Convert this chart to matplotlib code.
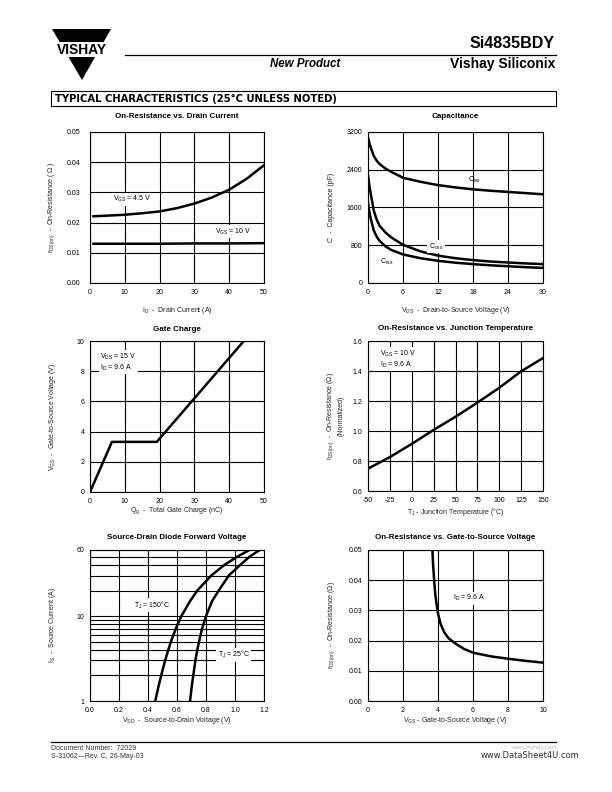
import matplotlib
matplotlib.use("Agg")
import matplotlib.pyplot as plt
from matplotlib.patches import Polygon, Rectangle

plt.rcParams.update({'font.family': ['Liberation Sans', 'DejaVu Sans'],
                     'font.size': 5, 'axes.linewidth': 0.8,
                     'axes.unicode_minus': False})

# --- data ---
# On-resistance vs drain current
id_45 = [1, 5, 10, 15, 20, 25, 30, 35, 40, 45, 50]
r_45 = [0.0221, 0.0223, 0.0226, 0.0231, 0.0237, 0.0248, 0.0263, 0.0283, 0.0309, 0.0345, 0.0390]
id_10 = [1, 10, 20, 30, 40, 50]
r_10 = [0.0130, 0.0130, 0.0130, 0.0131, 0.0131, 0.0132]

# Capacitance
vds = [0, 0.25, 0.5, 1, 1.5, 2, 3, 4, 6, 9, 12, 15, 18, 21, 24, 27, 30]
ciss = [3080, 2960, 2860, 2690, 2590, 2520, 2425, 2355, 2230, 2145, 2075, 2025, 1985, 1955, 1930, 1905, 1880]
coss = [2280, 2050, 1870, 1530, 1340, 1210, 1070, 965, 810, 670, 580, 525, 485, 455, 435, 415, 400]
crss = [1700, 1500, 1350, 1110, 980, 890, 775, 700, 605, 525, 470, 430, 400, 375, 355, 335, 320]

# Gate charge
qg = [0, 6.3, 19.2, 44.2]
vgs_qg = [0, 3.32, 3.32, 10]

# On-resistance vs junction temperature
tj = [-50, -25, 0, 25, 50, 75, 100, 125, 150]
r_norm = [0.749, 0.826, 0.914, 1.007, 1.095, 1.189, 1.288, 1.398, 1.486]

# Source-drain diode
i_s = [1, 1.5, 2, 3, 4, 5, 7, 10, 15, 20, 30, 40, 50, 60]
vsd_150 = [0.450, 0.473, 0.491, 0.518, 0.540, 0.558, 0.590, 0.630, 0.690, 0.740, 0.836, 0.927, 1.015, 1.100]
vsd_25 = [0.690, 0.702, 0.712, 0.727, 0.740, 0.752, 0.772, 0.800, 0.842, 0.888, 0.957, 1.036, 1.100, 1.170]

# On-resistance vs gate-to-source voltage
vgs = [3.68, 3.72, 3.78, 3.85, 3.92, 4.0, 4.15, 4.35, 4.6, 5.0, 5.5, 6.0, 7.0, 8.0, 9.0, 10.0]
r_vgs = [0.050, 0.045, 0.040, 0.035, 0.032, 0.029, 0.0255, 0.0228, 0.0208, 0.0190, 0.0172,
         0.0160, 0.0148, 0.0140, 0.0133, 0.0127]

W, H = 612, 792
fig = plt.figure(figsize=(W / 100, H / 100), dpi=100)

# page furniture drawn in pixel coordinates
page = fig.add_axes([0, 0, 1, 1])
page.set_xlim(0, W)
page.set_ylim(H, 0)
page.axis('off')

page.add_patch(Polygon([[52, 29], [111, 29], [82, 80]], closed=True, fc='black', ec='none'))
page.add_patch(Rectangle((45, 42), 72, 15, fc='white', ec='none'))
page.text(82, 50, 'VISHAY', fontsize=10, fontweight='bold', ha='center', va='center')
page.plot([125, 556], [55, 55], color='black', lw=0.9)
page.text(555, 44, 'Si4835BDY', fontsize=11.5, fontweight='bold', ha='right', va='center')
page.text(340, 64, 'New Product', fontsize=8.3, fontweight='bold', style='italic', ha='right', va='center')
page.text(555, 64, 'Vishay Siliconix', fontsize=10, fontweight='bold', ha='right', va='center')
page.add_patch(Rectangle((51, 91), 505, 15, fc='none', ec='black', lw=0.8))
page.text(55, 99, 'TYPICAL CHARACTERISTICS (25°C UNLESS NOTED)', fontsize=7.2,
          fontweight='bold', ha='left', va='center', family='DejaVu Sans')

page.plot([51, 556], [742, 742], color='black', lw=0.9)
page.text(51, 748, 'Document Number:  72029', fontsize=5, color='#333333', va='center')
page.text(51, 757, 'S-31062\u2014Rev. C, 26-May-03', fontsize=5, color='#333333', va='center')
page.text(557, 748, 'www.vishay.com', fontsize=4.5, color='#bbbbbb', ha='right', va='center')
page.text(579, 756, 'www.DataSheet4U.com', fontsize=6, color='#333333', ha='right', va='center',
          family='DejaVu Sans')


def make_axes(x0, x1, y0, y1):
    ax = fig.add_axes([x0 / W, 1 - y1 / H, (x1 - x0) / W, (y1 - y0) / H])
    ax.grid(True, which='major', color='black', lw=0.8)
    ax.set_axisbelow(True)
    ax.tick_params(length=0, labelsize=5, pad=4)
    for s in ax.spines.values():
        s.set_color('black')
    return ax


def decorate(ax, title, xlabel, ylabel, t_off, x_off, y_off, ysize=5):
    ax.text(0.5, 1 + t_off, title, transform=ax.transAxes, ha='center', va='center',
            fontsize=5.8, fontweight='bold')
    ax.text(0.5, -x_off, xlabel, transform=ax.transAxes, ha='center', va='center',
            fontsize=5, color='#222222')
    ax.text(-y_off, 0.5, ylabel, transform=ax.transAxes, ha='center', va='center',
            rotation=90, fontsize=ysize, color='#222222', multialignment='center')


lw = 1.8
rds = r'r$_\mathregular{DS(on)}$'
box = dict(fc='white', ec='none', pad=1)

# 1: on-resistance vs drain current
ax1 = make_axes(90, 264, 132, 283)
ax1.plot(id_45, r_45, color='black', lw=lw)
ax1.plot(id_10, r_10, color='black', lw=lw)
ax1.set_xlim(0, 50)
ax1.set_ylim(0, 0.05)
ax1.set_xticks([0, 10, 20, 30, 40, 50])
ax1.set_yticks([0, 0.01, 0.02, 0.03, 0.04, 0.05])
ax1.set_yticklabels(['0.00', '0.01', '0.02', '0.03', '0.04', '0.05'])
ax1.tick_params(axis='y', pad=7)
ax1.text(6.5, 0.0278, r'V$_\mathregular{GS}$ = 4.5 V', fontsize=5, va='center', bbox=box)
ax1.text(36, 0.0169, r'V$_\mathregular{GS}$ = 10 V', fontsize=5, va='center', bbox=box)
decorate(ax1, 'On-Resistance vs. Drain Current', r'I$_\mathregular{D}$  -  Drain Current (A)',
         rds + '  -  On-Resistance ( Ω )', 0.103, 0.179, 0.218)

# 2: capacitance
ax2 = make_axes(368, 543, 132, 283)
ax2.plot(vds, ciss, color='black', lw=lw)
ax2.plot(vds, coss, color='black', lw=lw)
ax2.plot(vds, crss, color='black', lw=lw)
ax2.set_xlim(0, 30)
ax2.set_ylim(0, 3200)
ax2.set_xticks([0, 6, 12, 18, 24, 30])
ax2.set_yticks([0, 800, 1600, 2400, 3200])
ax2.text(17.2, 2190, r'C$_\mathregular{iss}$', fontsize=5, va='center')
ax2.text(10.4, 770, r'C$_\mathregular{oss}$', fontsize=5, va='center', bbox=box)
ax2.text(2.0, 450, r'C$_\mathregular{rss}$', fontsize=5, va='center')
decorate(ax2, 'Capacitance', r'V$_\mathregular{DS}$  -  Drain-to-Source Voltage (V)',
         'C  -  Capacitance (pF)', 0.103, 0.179, 0.206)

# 3: gate charge
ax3 = make_axes(90, 264, 341, 492)
ax3.plot(qg, vgs_qg, color='black', lw=lw)
ax3.set_xlim(0, 50)
ax3.set_ylim(0, 10)
ax3.set_xticks([0, 10, 20, 30, 40, 50])
ax3.set_yticks([0, 2, 4, 6, 8, 10])
ax3.text(2.9, 9.3, 'V$_\\mathregular{DS}$ = 15 V\nI$_\\mathregular{D}$ = 9.6 A', fontsize=5,
         va='top', linespacing=1.1, bbox=box)
decorate(ax3, 'Gate Charge', r'Q$_\mathregular{g}$  -  Total Gate Charge (nC)',
         r'V$_\mathregular{GS}$  -  Gate-to-Source Voltage (V)', 0.079, 0.126, 0.213)

# 4: on-resistance vs junction temperature
ax4 = make_axes(368, 543, 341, 491)
ax4.plot(tj, r_norm, color='black', lw=lw)
ax4.set_xlim(-50, 150)
ax4.set_ylim(0.6, 1.6)
ax4.set_xticks([-50, -25, 0, 25, 50, 75, 100, 125, 150])
ax4.set_yticks([0.6, 0.8, 1.0, 1.2, 1.4, 1.6])
ax4.set_yticklabels(['0.6', '0.8', '1.0', '1.2', '1.4', '1.6'])
ax4.text(-36, 1.55, 'V$_\\mathregular{GS}$ = 10 V\nI$_\\mathregular{D}$ = 9.6 A', fontsize=5,
         va='top', linespacing=1.1, bbox=box)
decorate(ax4, 'On-Resistance vs. Junction Temperature',
         r'T$_\mathregular{J}$ - Junction Temperature (°C)',
         rds + '  -  On-Resistance (Ω)\n(Normalized)', 0.080, 0.140, 0.189)

# 5: source-drain diode forward voltage
ax5 = make_axes(90, 264, 550, 701)
ax5.plot(vsd_150, i_s, color='black', lw=lw)
ax5.plot(vsd_25, i_s, color='black', lw=lw)
ax5.set_yscale('log')
ax5.set_xlim(0, 1.2)
ax5.set_ylim(1, 60)
ax5.set_xticks([0, 0.2, 0.4, 0.6, 0.8, 1.0, 1.2])
ax5.set_xticklabels(['0.0', '0.2', '0.4', '0.6', '0.8', '1.0', '1.2'])
ax5.set_yticks([1, 10, 60])
ax5.set_yticklabels(['1', '10', '60'])
ax5.set_yticks([2, 3, 4, 5, 6, 7, 8, 9, 20, 30, 40, 50], minor=True)
ax5.yaxis.set_minor_formatter(plt.NullFormatter())
ax5.grid(True, which='minor', axis='y', color='black', lw=0.8)
ax5.tick_params(which='minor', length=0)
ax5.text(0.30, 13.5, r'T$_\mathregular{J}$ = 150°C', fontsize=5, va='center', bbox=box)
ax5.text(0.88, 3.5, r'T$_\mathregular{J}$ = 25°C', fontsize=5, va='center', bbox=box)
decorate(ax5, 'Source-Drain Diode Forward Voltage',
         r'V$_\mathregular{SD}$  -  Source-to-Drain Voltage (V)',
         r'I$_\mathregular{S}$  -  Source Current (A)', 0.080, 0.132, 0.213)

# 6: on-resistance vs gate-to-source voltage
ax6 = make_axes(368, 543, 550, 701)
ax6.plot(vgs, r_vgs, color='black', lw=lw)
ax6.set_xlim(0, 10)
ax6.set_ylim(0, 0.05)
ax6.set_xticks([0, 2, 4, 6, 8, 10])
ax6.set_yticks([0, 0.01, 0.02, 0.03, 0.04, 0.05])
ax6.set_yticklabels(['0.00', '0.01', '0.02', '0.03', '0.04', '0.05'])
ax6.text(4.86, 0.0341, r'I$_\mathregular{D}$ = 9.6 A', fontsize=5, va='center', bbox=box)
decorate(ax6, 'On-Resistance vs. Gate-to-Source Voltage',
         r'V$_\mathregular{GS}$ - Gate-to-Source Voltage (V)',
         rds + '  -  On-Resistance (Ω)', 0.080, 0.132, 0.206)

fig.savefig('out.png', dpi=100)
plt.close(fig)
